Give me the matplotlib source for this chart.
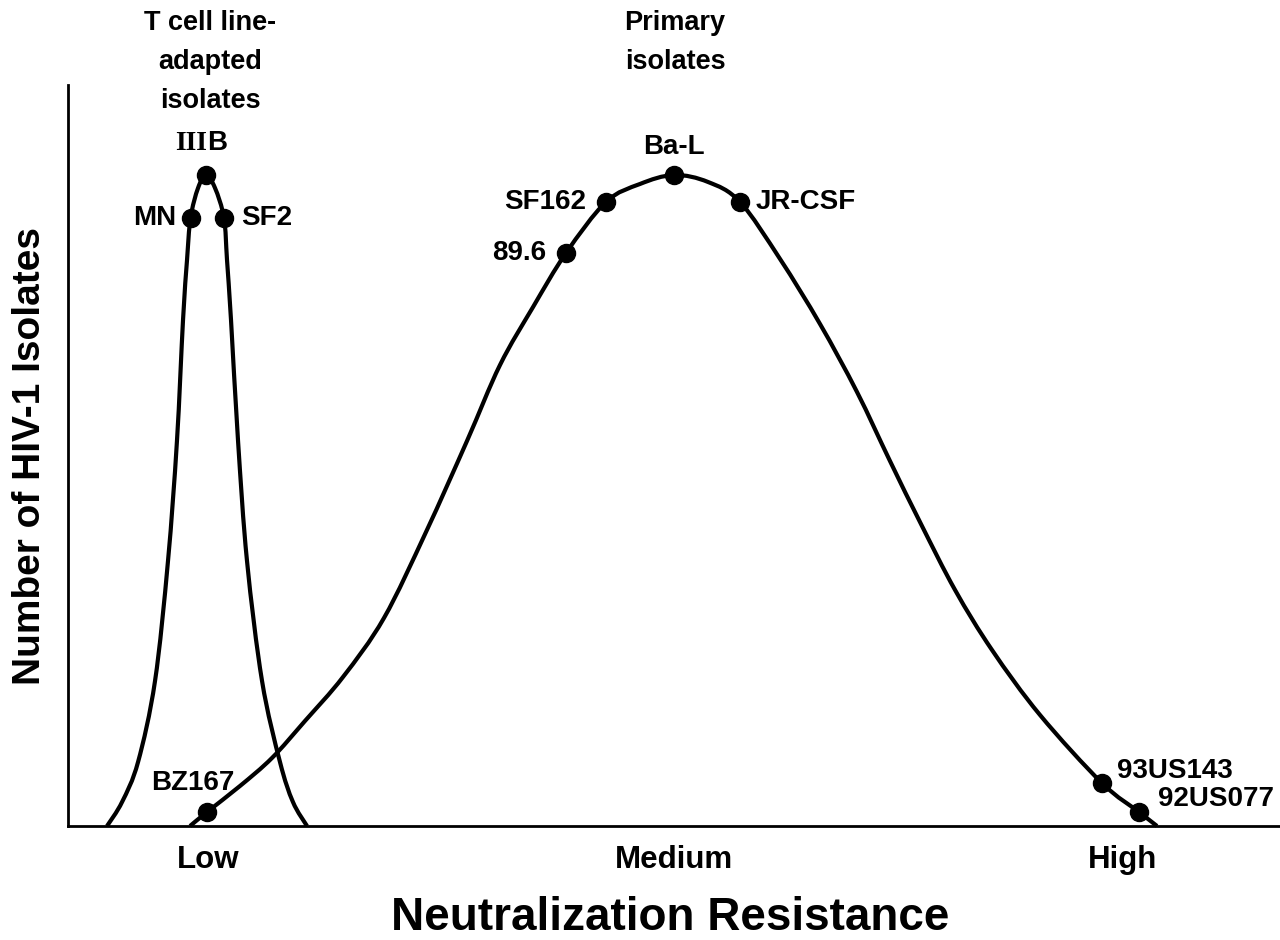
import matplotlib
matplotlib.use('Agg')
import matplotlib.pyplot as plt
from matplotlib.path import Path
from matplotlib.patches import PathPatch

# traced curve shapes (x = resistance 0-100, y = relative number 0-100)
tcla_x = [3.22, 4.46, 5.78, 7.18, 8.25, 8.99, 9.49, 9.82, 10.11, 10.73, 11.39,
          12.13, 12.87, 13.12, 13.45, 14.03, 14.77, 16.01, 17.49, 18.56, 19.72]
tcla_y = [0, 3.24, 8.64, 19.57, 35.76, 51.96, 68.28, 76.38, 82.05, 86.10, 87.85,
          86.10, 82.05, 76.38, 68.28, 51.96, 35.76, 19.57, 8.64, 3.24, 0]

prim_x = [10.07, 11.47, 14.19, 16.83, 19.55, 22.69, 26.07, 29.54, 32.92, 35.64,
          38.37, 41.09, 44.39, 47.19, 50.00, 52.81, 55.45, 58.75, 62.05, 65.10,
          67.82, 70.38, 73.19, 76.24, 80.20, 85.31, 88.37, 89.85]
prim_y = [0, 1.89, 5.40, 9.18, 14.17, 20.11, 28.07, 39.68, 51.96, 62.20,
          70.04, 77.33, 84.21, 86.64, 87.85, 86.91, 84.21, 76.52, 67.74, 58.57,
          49.26, 40.75, 31.85, 23.75, 14.98, 5.80, 1.89, 0]

# named isolates
iso_names = ['MN', 'SF2', 'BZ167', '89.6', 'SF162', 'Ba-L', 'JR-CSF', '93US143', '92US077']
iso_x = [10.11, 12.87, 11.47, 41.09, 44.39, 50.00, 55.45, 85.31, 88.37]
iso_y = [82.05, 82.05, 1.89, 77.33, 84.21, 87.85, 84.21, 5.80, 1.89]
iiib_x, iiib_y = 11.39, 87.85

tick_pos = [11.55, 50.0, 86.97]
tick_labels = ['Low', 'Medium', 'High']

# label placement (offset in points, alignment)
label_style = {
    'MN': ((-10, 0), 'right', 'center'),
    'SF2': ((12, 0), 'left', 'center'),
    'BZ167': ((-10, 21), 'center', 'center'),
    '89.6': ((-14, 0), 'right', 'center'),
    'SF162': ((-14, 0), 'right', 'center'),
    'Ba-L': ((0, 20), 'center', 'center'),
    'JR-CSF': ((11, 0), 'left', 'center'),
    '93US143': ((11, 9), 'left', 'center'),
    '92US077': ((14, 9), 'left', 'center'),
}


def smooth_path(xs, ys):
    # bezier path through the traced points (catmull-rom style handles)
    pts = list(zip(xs, ys))
    pts = [pts[0]] + pts + [pts[-1]]
    verts = [pts[1]]
    codes = [Path.MOVETO]
    for i in range(1, len(pts) - 2):
        p0, p1, p2, p3 = pts[i - 1], pts[i], pts[i + 1], pts[i + 2]
        c1 = (p1[0] + (p2[0] - p0[0]) / 6, p1[1] + (p2[1] - p0[1]) / 6)
        c2 = (p2[0] - (p3[0] - p1[0]) / 6, p2[1] - (p3[1] - p1[1]) / 6)
        verts += [c1, c2, p2]
        codes += [Path.CURVE4] * 3
    return Path(verts, codes)


narrow = ['Liberation Sans Narrow', 'Liberation Sans', 'DejaVu Sans']
plt.rcParams['font.family'] = ['Liberation Sans', 'DejaVu Sans']

fig = plt.figure(figsize=(12.8, 9.4), dpi=100)
ax = fig.add_axes([68 / 1280, 1 - 826 / 940, 1 - 68 / 1280, 741 / 940])

for xs, ys in [(tcla_x, tcla_y), (prim_x, prim_y)]:
    ax.add_patch(PathPatch(smooth_path(xs, ys), facecolor='none', edgecolor='black',
                           lw=3, joinstyle='round', clip_on=False))

ax.plot(iso_x + [iiib_x], iso_y + [iiib_y], 'o', color='black', ms=13, clip_on=False)

for name, x, y in zip(iso_names, iso_x, iso_y):
    off, ha, va = label_style[name]
    ax.annotate(name, (x, y), xytext=off, textcoords='offset points',
                ha=ha, va=va, fontsize=20, fontweight='bold', family=narrow)

# IIIB with serif roman numerals
ax.annotate('III', (iiib_x, iiib_y), xytext=(1, 23), textcoords='offset points',
            ha='right', va='center', fontsize=20, fontweight='bold',
            family=['Liberation Serif', 'DejaVu Serif'])
ax.annotate('B', (iiib_x, iiib_y), xytext=(1, 23), textcoords='offset points',
            ha='left', va='center', fontsize=20, fontweight='bold', family=narrow)

ax.set_xlim(0, 100)
ax.set_ylim(0, 100)
ax.spines['top'].set_visible(False)
ax.spines['right'].set_visible(False)
ax.spines['left'].set_linewidth(2)
ax.spines['bottom'].set_linewidth(2)
ax.set_yticks([])
ax.set_xticks(tick_pos)
ax.set_xticklabels(tick_labels, fontsize=22.5, fontweight='bold')
ax.tick_params(axis='x', length=0, pad=14)

fig.text(30 / 1280, 1 - 456 / 940, 'Number of HIV-1 Isolates', rotation=90,
         ha='center', va='center', fontsize=28, fontweight='bold')
fig.text(670 / 1280, 1 - 918 / 940, 'Neutralization Resistance',
         ha='center', va='center', fontsize=33, fontweight='bold')

fig.text(210 / 1280, 1 - 10 / 940, 'T cell line-\nadapted\nisolates',
         ha='center', va='top', fontsize=19.5, fontweight='bold', linespacing=1.65)
fig.text(675 / 1280, 1 - 10 / 940, 'Primary\nisolates',
         ha='center', va='top', fontsize=19.5, fontweight='bold', linespacing=1.65)

fig.savefig('out.png', dpi=100)
